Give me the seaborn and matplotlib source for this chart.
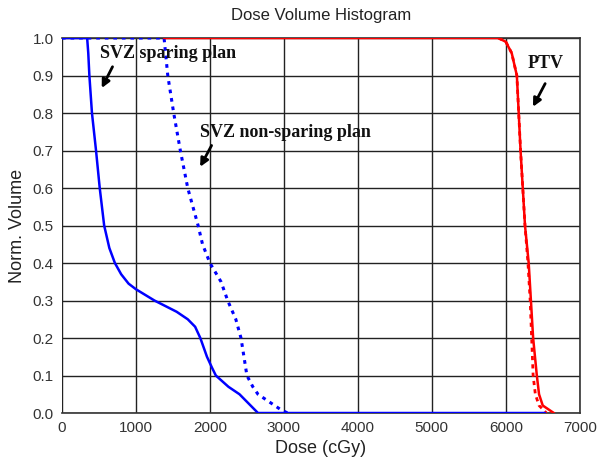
import matplotlib
matplotlib.use("Agg")
import matplotlib.pyplot as plt
import seaborn as sns

# SVZ sparing plan (solid blue)
spare_dose = [0, 340, 355, 370, 405, 460, 510, 570, 640, 715, 800, 900, 1000, 1250, 1550, 1700,
              1800, 1870, 1960, 2030, 2080, 2250, 2400, 2550, 2650, 6530]
spare_vol = [1.0, 1.0, 0.96, 0.9, 0.8, 0.7, 0.6, 0.5, 0.44, 0.4, 0.37, 0.345, 0.33, 0.3, 0.27,
             0.25, 0.23, 0.2, 0.15, 0.12, 0.1, 0.07, 0.05, 0.02, 0.0, 0.0]

# SVZ non-sparing plan (dotted blue)
nonspare_dose = [0, 1380, 1430, 1510, 1600, 1700, 1840, 1900, 2000, 2150, 2240, 2350, 2420,
                 2460, 2500, 2580, 2650, 2800, 2950, 3050]
nonspare_vol = [1.0, 1.0, 0.9, 0.8, 0.7, 0.6, 0.5, 0.45, 0.4, 0.35, 0.3, 0.25, 0.2,
                0.15, 0.1, 0.07, 0.05, 0.03, 0.01, 0.0]

# PTV, sparing plan (solid red)
ptv_dose = [1380, 5900, 6000, 6080, 6150, 6175, 6200, 6230, 6260, 6310, 6340, 6370, 6420,
            6450, 6500, 6650]
ptv_vol = [1.0, 1.0, 0.99, 0.96, 0.9, 0.8, 0.7, 0.6, 0.5, 0.4, 0.3, 0.2, 0.1,
           0.05, 0.02, 0.0]

# PTV, non-sparing plan (dashed red)
ptv2_dose = [5900, 6000, 6080, 6150, 6175, 6200, 6230, 6260, 6300, 6330, 6350, 6370,
             6400, 6450, 6550]
ptv2_vol = [1.0, 0.99, 0.96, 0.9, 0.8, 0.7, 0.6, 0.5, 0.4, 0.3, 0.2, 0.1,
            0.05, 0.02, 0.0]

sns.set_style("white")
plt.rcParams['font.family'] = ['Liberation Sans', 'DejaVu Sans']

fig = plt.figure(figsize=(6.02, 4.67), dpi=100)
ax = fig.add_axes([0.103, 0.1156, 0.860, 0.803])

sns.lineplot(x=spare_dose, y=spare_vol, color='#0000ff', lw=1.8, ax=ax, zorder=4)
sns.lineplot(x=nonspare_dose, y=nonspare_vol, color='#0000ff', lw=2.2, ax=ax, zorder=3,
             linestyle=(0, (1.2, 1.6)))
sns.lineplot(x=ptv_dose, y=ptv_vol, color='#ff0000', lw=1.8, ax=ax, zorder=4)
sns.lineplot(x=ptv2_dose, y=ptv2_vol, color='#ff0000', lw=2.0, ax=ax, zorder=3,
             linestyle=(0, (1.5, 1.5)))

ax.set_xlim(0, 7000)
ax.set_ylim(0, 1.0)
ax.set_xticks(range(0, 7001, 1000))
ax.set_yticks([i / 10 for i in range(11)])
ax.set_yticklabels([f"{i / 10:.1f}" for i in range(11)])
ax.grid(True, color='#222222', lw=1.0)
ax.set_axisbelow(True)
ax.tick_params(length=0, labelsize=11, colors='#333333', pad=6)
for s in ['top', 'right', 'bottom']:
    ax.spines[s].set_color('#333333')
    ax.spines[s].set_linewidth(1.2)
ax.spines['left'].set_visible(False)

ax.set_xlabel("Dose (cGy)", fontsize=13, color='#222222', labelpad=3)
ax.set_ylabel("Norm. Volume", fontsize=13, color='#222222', labelpad=5)
ax.set_title("Dose Volume Histogram", fontsize=12, color='#222222', pad=13)

tfont = dict(family='Liberation Serif', fontweight='bold', fontsize=13, color='#111111',
             va='center')
arrow = dict(arrowstyle='-|>', color='black', lw=2, mutation_scale=12)
ax.annotate("SVZ sparing plan", xy=(520, 0.96), **tfont)
ax.annotate("", xy=(520, 0.86), xytext=(700, 0.93), arrowprops=arrow)
ax.annotate("SVZ non-sparing plan", xy=(1870, 0.747), **tfont)
ax.annotate("", xy=(1850, 0.65), xytext=(2040, 0.72), arrowprops=arrow)
ax.annotate("PTV", xy=(6300, 0.933), **tfont)
ax.annotate("", xy=(6350, 0.81), xytext=(6550, 0.885), arrowprops=arrow)

fig.savefig("out.png", dpi=100)
